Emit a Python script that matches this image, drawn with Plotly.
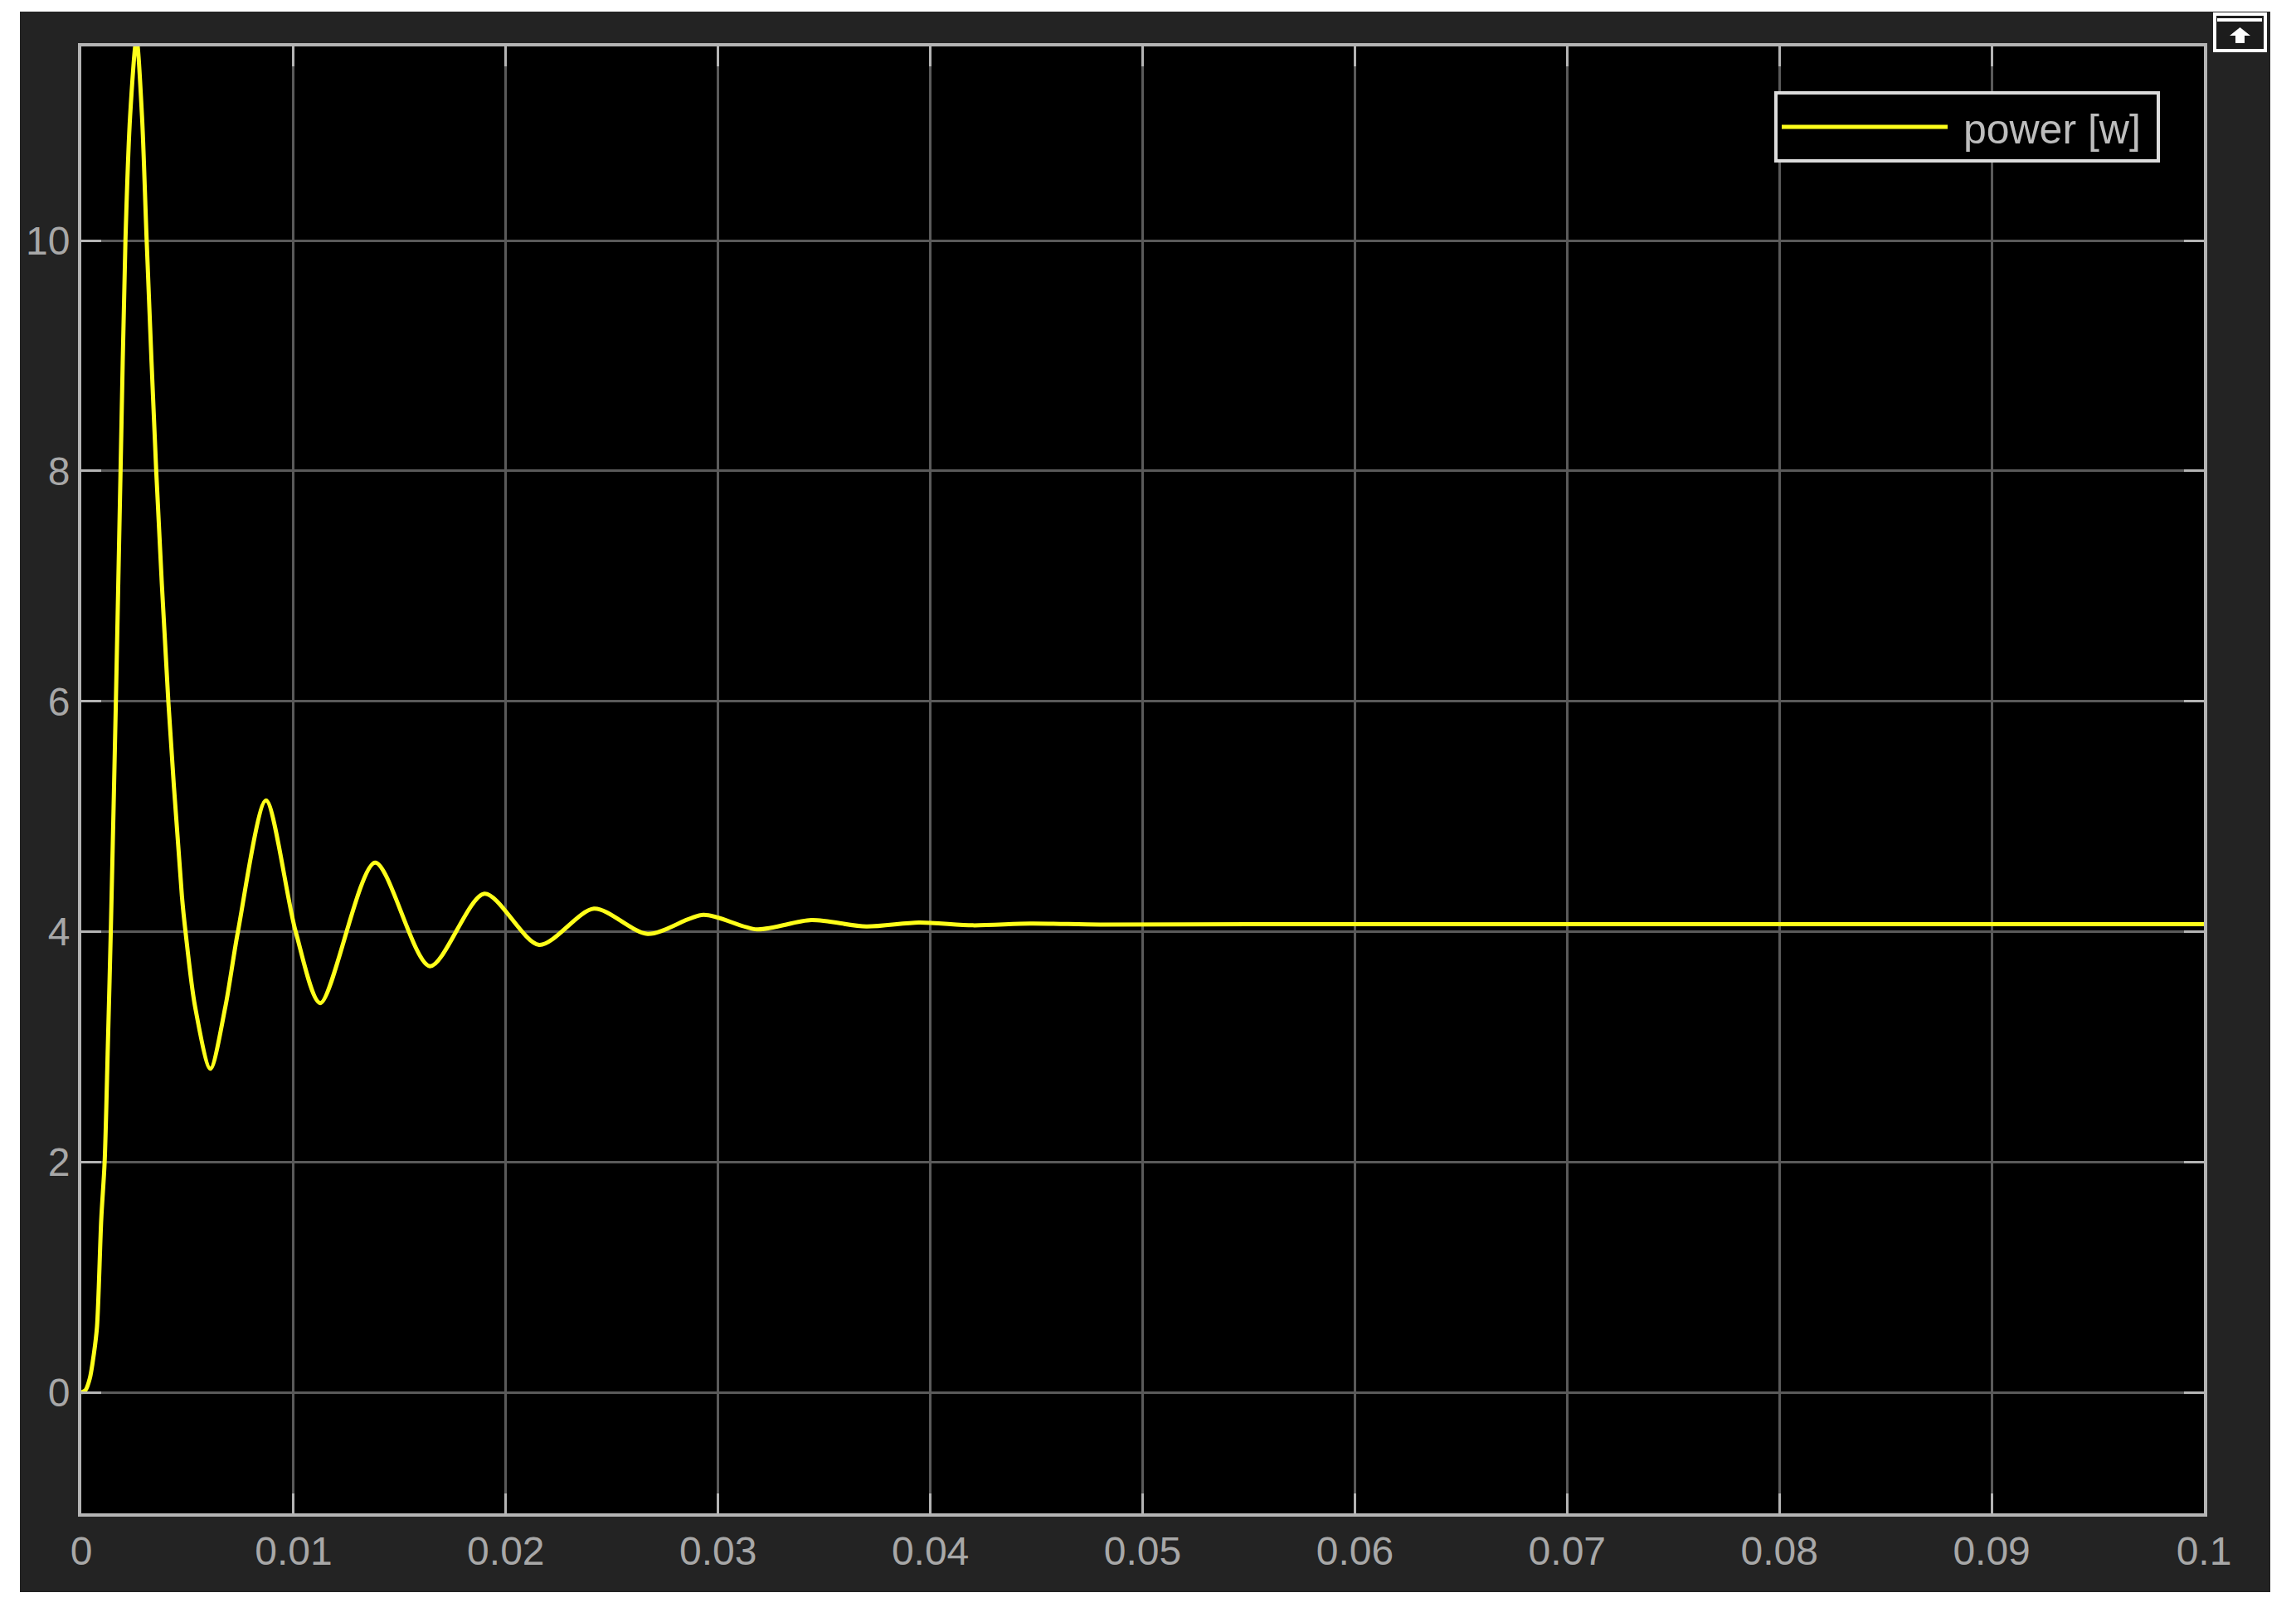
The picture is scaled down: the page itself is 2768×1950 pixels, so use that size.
import plotly.graph_objects as go

# values
time_s = [0, 0.0002, 0.0004, 0.00059, 0.00074, 0.00094, 0.0011, 0.00125, 0.00139,
          0.00163, 0.00185, 0.00208, 0.0023, 0.0026, 0.00286, 0.00308, 0.00353,
          0.0041, 0.00474, 0.00491, 0.00536, 0.00608, 0.00679, 0.00738, 0.0087,
          0.0101, 0.01126, 0.01384, 0.01642, 0.01899, 0.02157, 0.02415, 0.02668,
          0.02931, 0.03183, 0.03439, 0.03698, 0.03946, 0.042, 0.0447, 0.048,
          0.055, 0.065, 0.075, 0.085, 0.1]
power_w = [0, 0.02, 0.12, 0.33, 0.57, 1.5, 2.0, 3.0, 4.0,
           6.0, 8.0, 10.0, 11.08, 11.75, 11.08, 10.0, 8.0,
           6.0, 4.31, 4.0, 3.35, 2.81, 3.35, 4.0, 5.14,
           4.0, 3.38, 4.60, 3.70, 4.33, 3.885, 4.20, 3.98,
           4.145, 4.02, 4.10, 4.045, 4.08, 4.055, 4.07, 4.062,
           4.065, 4.065, 4.065, 4.065, 4.065]

x_ticks = [0, 0.01, 0.02, 0.03, 0.04, 0.05, 0.06, 0.07, 0.08, 0.09, 0.1]
x_labels = ['0', '0.01', '0.02', '0.03', '0.04', '0.05', '0.06',
            '0.07', '0.08', '0.09', '0.1']
y_ticks = [0, 2, 4, 6, 8, 10]

W_FIG, H_FIG = 2768, 1950
L, R, T, B = 98, 111, 56, 125
PW, PH = W_FIG - L - R, H_FIG - T - B


def px_x(px):
    return (px - L) / PW


def px_y(py):
    return 1 - (py - T) / PH


fig = go.Figure()
fig.add_trace(go.Scatter(
    x=time_s, y=power_w, mode='lines', name='\u00a0power [w]\u00a0',
    line=dict(color='#ffff1a', width=5, shape='spline', smoothing=0.8),
))

axis_common = dict(
    showline=True, linecolor='#b4b4b4', linewidth=4, mirror='ticks',
    ticks='inside', ticklen=24, tickwidth=3, tickcolor='#b4b4b4',
    showgrid=True, gridcolor='#5a5a5a', gridwidth=3, zeroline=False,
    tickfont=dict(family='Liberation Sans, Arial', size=48, color='#a8a8a8'),
)

fig.update_layout(
    width=W_FIG, height=H_FIG,
    margin=dict(l=L, r=R, t=T, b=B, autoexpand=False),
    paper_bgcolor='white', plot_bgcolor='black',
    xaxis=dict(range=[0, 0.1], tickvals=x_ticks, ticktext=x_labels, **axis_common),
    yaxis=dict(range=[-1.05, 11.685], tickvals=y_ticks, **axis_common),
    showlegend=True,
    legend=dict(x=px_x(2604), y=px_y(110), xanchor='right', yanchor='top',
                bgcolor='black', bordercolor='#dcdcdc', borderwidth=4,
                itemwidth=200,
                font=dict(family='Liberation Sans, Arial', size=50, color='#bdbdbd')),
    shapes=[
        # dark scope frame
        dict(type='rect', xref='paper', yref='paper', layer='below',
             x0=px_x(24), x1=px_x(2737), y0=px_y(1920), y1=px_y(14),
             fillcolor='#232323', line=dict(width=0)),
        # black plot area
        dict(type='rect', xref='paper', yref='paper', layer='below',
             x0=0, x1=1, y0=0, y1=1, fillcolor='black', line=dict(width=0)),
        # undock icon in the corner
        dict(type='rect', xref='paper', yref='paper',
             x0=px_x(2670), x1=px_x(2731), y0=px_y(61), y1=px_y(17),
             fillcolor='#1c1c1c', line=dict(color='white', width=4)),
        dict(type='line', xref='paper', yref='paper',
             x0=px_x(2673), x1=px_x(2727), y0=px_y(24), y1=px_y(24),
             line=dict(color='white', width=4)),
        dict(type='path', xref='paper', yref='paper',
             path='M {} {} L {} {} L {} {} L {} {} L {} {} L {} {} L {} {} Z'.format(
                 px_x(2700.5), px_y(33), px_x(2713), px_y(43), px_x(2706), px_y(43),
                 px_x(2706), px_y(52), px_x(2695), px_y(52), px_x(2695), px_y(43),
                 px_x(2688), px_y(43)),
             fillcolor='white', line=dict(width=0)),
    ],
)

fig.write_html("out.html", config={'displayModeBar': False},
               post_script="document.body.style.margin='0';"
                           "document.body.style.overflow='hidden';")
